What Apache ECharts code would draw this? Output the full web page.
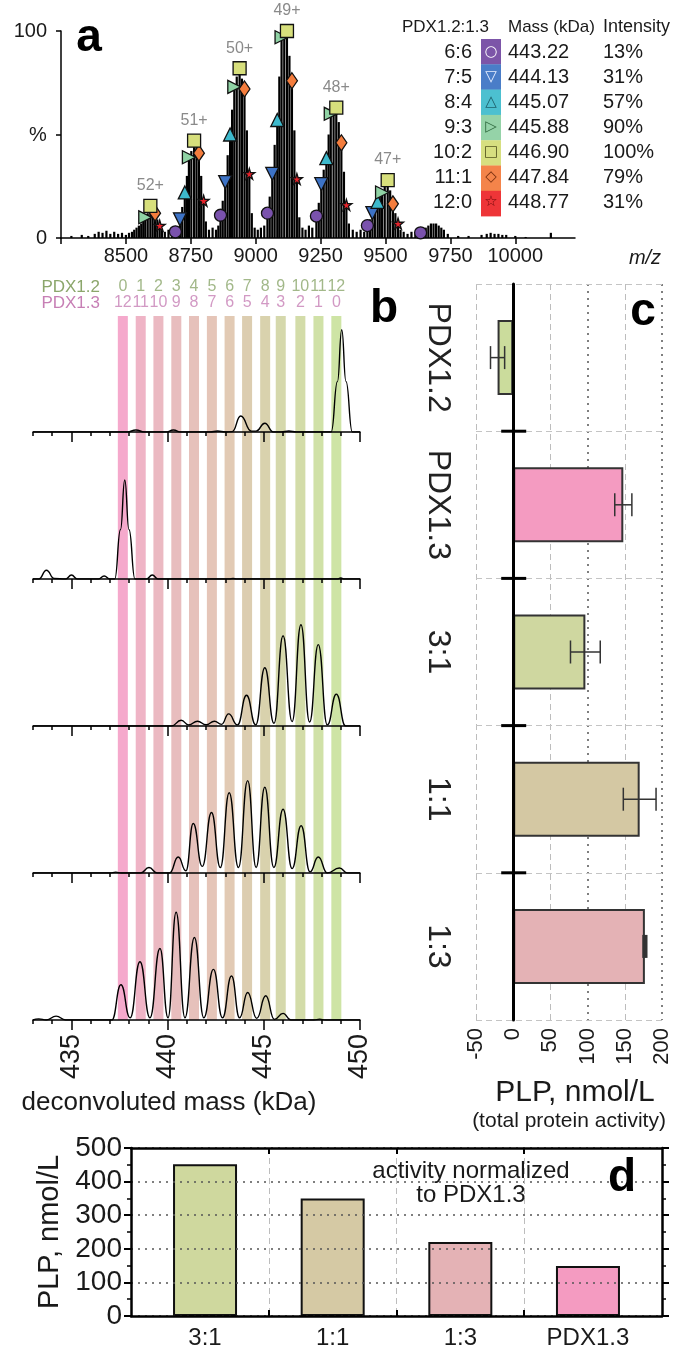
<!DOCTYPE html>
<html><head><meta charset="utf-8">
<script src="https://cdn.jsdelivr.net/npm/echarts@6/dist/echarts.min.js"></script>
<style>html,body{margin:0;padding:0;background:#fff}#c{width:679px;height:1355px}</style>
</head><body><div id="c"></div>
<script>
const FONT = '"Liberation Sans", Arial, Helvetica, sans-serif';

// ---------------- panel a data ----------------
const spectrumPeaks = [
  [8290,1],[8330,1.5],[8355,1],[8380,2],[8395,3],[8410,2.5],[8425,3.5],[8440,2],[8455,3],[8470,2],[8485,2.5],[8500,1.5],[8512,2.5],
  [8523.5,3],[8532,4],[8541,5],[8550,6],[8559,7],[8567,8],[8574.6,10],[8584,12],[8594.2,15.5],[8603,14],[8612.3,12],[8621,9],[8630.2,6],[8639,4],
  [8650,3],[8664,4],[8678,3],
  [8690.6,3],[8699,5],[8708.4,9],[8717,15],[8726.9,22],[8735,30],[8742.7,39],[8752,42],[8762.7,47],[8772,44],[8781.2,41],[8790,30],[8799.4,18],[8808,8],
  [8820,4],[8834,5],[8847,4],[8856,6],
  [8864.4,11],[8873,18],[8882.6,27],[8892,40],[8901.4,50],[8909,62],[8917.6,73],[8927,78],[8938,82],[8947,77],[8956.8,72],[8966,52],[8975.4,31],[8985,12],
  [8996,5],[9008,4],[9020,5],[9033,6],
  [9045.3,12],[9054,20],[9063.9,31],[9073,45],[9083.1,57],[9091,78],[9099.6,97],[9110,98],[9120.4,100],[9130,88],[9139.6,76],[9149,52],[9158.6,28.5],[9168,10],
  [9180,5],[9192,4],[9205,6],[9218,5],
  [9233.8,10.6],[9243,17],[9252.7,26],[9262,33],[9272.3,38.6],[9281,50],[9289.2,60],[9300,62],[9310.4,63],[9320,56],[9330,46],[9340,32],[9349.4,16],[9359,7],
  [9374,4],[9389,3],[9404,4],[9418,3],
  [9430.2,6],[9440,9],[9449.6,12],[9459,15],[9469.6,17.5],[9478,20],[9486.8,22],[9497,26],[9508.5,28],[9518,23],[9528.5,16.5],[9538,12],[9548.3,7],[9558,4],
  [9570,3],[9585,2],[9600,3],[9615,2],
  [9635.2,2.5],[9655,5],[9665,6],[9675,7],[9685,7],[9695,7],[9705,6],[9715,5],[9725,4],[9740,2],
  [9780,1],[9820,1],[9870,1.5],[9890,2],[9905,2.5],[9920,2],[9935,2],[9950,1.5],[9965,1.5],[10000,1],[10040,0.5],[10137,2.5]
];
const chargeLabels = ['52+','51+','50+','49+','48+','47+','46+'];
// m/z of each species (columns 6:6 ... 12:0) for each charge state (rows 52+ ... 46+)
const mzTable = [
  [8523.5, 8541.0, 8559.0, 8574.6, 8594.2, 8612.3, 8630.2],
  [8690.6, 8708.4, 8726.9, 8742.7, 8762.7, 8781.2, 8799.4],
  [8864.4, 8882.6, 8901.4, 8917.6, 8938.0, 8956.8, 8975.4],
  [9045.3, 9063.9, 9083.1, 9099.6, 9120.4, 9139.6, 9158.6],
  [9233.8, 9252.7, 9272.3, 9289.2, 9310.4, 9330.0, 9349.4],
  [9430.2, 9449.6, 9469.6, 9486.8, 9508.5, 9528.5, 9548.3],
  [9635.2, 9655.0, 9675.4, 9693.0, 9715.2, 9735.7, 9755.9]
];
const markerHeights = [
  [null, null, null, 10, 15.5, 12, 6],
  [3, 9, 22, 39, 47, 41, 18],
  [11, 27, 50, 73, 82, 72, 31],
  [12, 31, 57, 97, 100, 76, 28.5],
  [10.6, 26, 38.6, 60, 63, 46, 16],
  [6, 12, 17.5, 22, 28, 16.5, 7],
  [2.5, null, null, null, null, null, null]
];
const ratioLabels = ['6:6','7:5','8:4','9:3','10:2','11:1','12:0'];
const massesKDa = ['443.22','444.13','445.07','445.88','446.90','447.84','448.77'];
const intensityLabels = ['13%','31%','57%','90%','100%','79%','31%'];
const speciesColors = ['#7a52ad','#3d73c6','#3db9cc','#90d3a5','#d7df7c','#f47d3d','#e8232b'];
const legendBoxColors = ['#7c55a8','#4a7dc8','#4cc0d0','#95d3a8','#d7df80','#f4844a','#ee3538'];
const legendGlyphs = ['○','▽','△','▷','□','◇','☆'];
const legendGlyphColors = ['#ffffff','#e6eeff','#1d5f6a','#2f6a3f','#55551e','#7a3010','#6a0808'];
const STAR = 'path://M50,0 L61,35 L98,35 L68,57 L79,91 L50,70 L21,91 L32,57 L2,35 L39,35 Z';
const speciesSymbols = ['circle','triangle','triangle','triangle','rect','diamond',STAR];
const speciesRotate = [0,180,0,-90,0,0,0];
const speciesSizes = [12,13,13,13,13,[11,16],11];

// ---------------- panel b data ----------------
const stripeMasses = [437.67,438.60,439.52,440.45,441.37,442.30,443.22,444.13,445.07,445.88,446.90,447.84,448.77];
const pdx12Counts = [0,1,2,3,4,5,6,7,8,9,10,11,12];
const pdx13Counts = [12,11,10,9,8,7,6,5,4,3,2,1,0];
const stripeColors = ['#f5a9cc','#efb4c6','#ebb9c2','#e8bdbe','#e6c1bb','#e5c5b8','#e2cab4','#dccdb0','#d9d2ad','#d5d8ac','#d3dca9','#d0e1a7','#cee4a5'];
const tracePDX12 = [[433,0],[437.9,0],[438.35,1.8],[438.8,0],[439.9,0],[440.3,1.8],[440.7,0],[442.2,0],[442.6,0.9],[443.0,0],[443.35,0.3],[443.8,14.5],[444.35,0.8],[444.6,0.8],[445.05,8],[445.5,0],[445.9,0],[446.3,0.9],[446.7,0],[448.5,0],[448.83,46],[449.05,93],[449.27,46],[449.6,0],[450,0]];
const tracePDX13 = [[433,0],[433.3,0],[433.7,8],[434.1,0.5],[434.7,0],[435.0,3.6],[435.3,0],[436.4,0],[436.7,2.7],[437.0,0],[437.25,0],[437.55,45],[437.77,90],[437.99,45],[438.3,0],[438.9,0],[439.2,3.6],[439.5,0],[443.2,0],[443.4,0.5],[443.6,0],[448.8,0],[449.0,0.9],[449.2,0],[450,0]];
const trace31 = [[433,0],[440.2,0],[440.7,5.2],[441.1,1],[441.55,4.3],[442.0,1.2],[442.43,4.3],[442.8,1.5],[443.17,11],[443.63,1],[444.1,28],[444.58,1],[445.05,53],[445.53,2.5],[446.0,82],[446.47,4],[446.93,92],[447.38,3.6],[447.83,74],[448.3,1],[448.77,29],[449.25,0],[450,0]];
const trace11 = [[433,0],[437.0,0],[437.3,0.8],[437.6,0],[438.6,0],[439.03,5],[439.45,0],[440.1,0],[440.55,14.5],[440.95,2],[441.33,45],[441.8,6],[442.28,55],[442.74,5],[443.2,73],[443.68,5],[444.16,84],[444.6,5],[445.05,78],[445.52,5],[446.0,58],[446.47,4],[446.94,43],[447.4,1],[447.83,14.5],[448.3,0],[448.93,4.5],[449.35,0],[450,0]];
const trace13 = [[433,0],[433.3,1],[433.7,0],[434.2,3.5],[434.7,0],[437.1,0],[437.57,32],[438.05,2],[438.56,53],[439.08,2],[439.6,65],[440.02,2],[440.44,98],[440.9,2],[441.39,75],[441.88,2],[442.38,46],[442.85,2],[443.32,40],[443.74,2],[444.16,25],[444.63,1.5],[445.1,22],[445.55,0.5],[446.0,6],[446.4,0],[447.6,0],[447.9,0.8],[448.2,0],[450,0]];
const traces = [tracePDX12, tracePDX13, trace31, trace11, trace13];
const massTicksMajor = [435,440,445,450];

// ---------------- panel c data ----------------
const activityCats = ['PDX1.2','PDX1.3','3:1','1:1','1:3'];
const activityValues = [-21, 148, 97, 170, 177];
const activityErrors = [9.5, 11.5, 20, 22, 1.5];
const activityColors = ['#cbdc9c','#f49bc1','#cfd7a0','#d4c8a3','#e4b2b5'];

// ---------------- panel d data ----------------
const normCats = ['3:1','1:1','1:3','PDX1.3'];
const normValues = [452, 350, 220, 149];
const normColors = ['#cfd89e','#d5c9a4','#e4b2b5','#f49bc1'];

// ---------------- build ----------------
const txt = (size, extra) => Object.assign({fontFamily: FONT, fontSize: size, color: '#1a1a1a'}, extra || {});
const grids = [
  {left: 61, top: 31, width: 514, height: 207}
];
const traceBase = [432, 579, 726, 873, 1020];
traceBase.forEach(b => grids.push({left: 33, width: 327, top: b - 110, height: 110}));
grids.push({left: 33, width: 327, top: 316, height: 704});
grids.push({left: 476, width: 186, top: 284, height: 736});
grids.push({left: 131, width: 531, top: 1148, height: 168});

const xAxes = [], yAxes = [], series = [];
// panel a axes
xAxes.push({gridIndex: 0, type: 'value', min: 8250, max: 10230, position: 'bottom',
  axisLine: {onZero: false, lineStyle: {color: '#000', width: 1.5}},
  axisTick: {length: 6, lineStyle: {color: '#000', width: 1.5}, customValues: [8250,8500,8750,9000,9250,9500,9750,10000]},
  axisLabel: txt(20, {margin: 8, customValues: [8500,8750,9000,9250,9500,9750,10000], formatter: v => String(v)}),
  splitLine: {show: false}});
yAxes.push({gridIndex: 0, type: 'value', min: 0, max: 100, interval: 50,
  axisLine: {show: true, lineStyle: {color: '#000', width: 1.5}},
  axisTick: {show: true, length: 5, lineStyle: {color: '#000', width: 1.5}},
  axisLabel: txt(20, {margin: 14, formatter: v => (v === 50 ? '' : String(v))}),
  splitLine: {show: false}});
// panel b main axes (1..5) and major overlays (6..10)
for (let i = 0; i < 5; i++) {
  xAxes.push({gridIndex: i + 1, type: 'value', min: 433, max: 450, interval: 1, z: 5, position: 'bottom',
    axisLine: {onZero: false, lineStyle: {color: '#000', width: 1.5}},
    axisTick: {length: 4, lineStyle: {color: '#000', width: 1.5}},
    axisLabel: {show: false}, splitLine: {show: false}});
}
for (let i = 0; i < 5; i++) {
  xAxes.push({gridIndex: i + 1, type: 'value', min: 433, max: 450, z: 5, position: 'bottom',
    axisLine: {show: false, onZero: false},
    axisTick: {length: 10, lineStyle: {color: '#000', width: 1.5}, customValues: massTicksMajor},
    axisLabel: i === 4 ? txt(27, {rotate: 90, margin: 14, customValues: massTicksMajor, formatter: v => String(v)}) : {show: false},
    splitLine: {show: false}});
}
for (let i = 0; i < 5; i++) {
  yAxes.push({gridIndex: i + 1, type: 'value', min: 0, max: 100, show: false});
}
// stripes axes (x 11, y 6)
xAxes.push({gridIndex: 6, type: 'value', min: 433, max: 450, show: false});
yAxes.push({gridIndex: 6, type: 'value', min: 0, max: 1, show: false});
// panel c axes (x 12..15, y 7)
xAxes.push({gridIndex: 7, type: 'value', min: -50, max: 200, interval: 50, position: 'bottom', z: 4,
  axisLine: {onZero: false, lineStyle: {color: '#000', width: 3}},
  axisTick: {inside: true, length: 8, lineStyle: {color: '#000', width: 2.5}},
  axisLabel: txt(22, {rotate: 90, margin: 8}), splitLine: {show: false}});
xAxes.push({gridIndex: 7, type: 'value', min: -50, max: 200, interval: 50, position: 'top', z: 4,
  axisLine: {onZero: false, lineStyle: {color: '#000', width: 3}},
  axisTick: {inside: true, length: 8, lineStyle: {color: '#000', width: 2.5}},
  axisLabel: {show: false}, splitLine: {show: false}});
xAxes.push({gridIndex: 7, type: 'value', min: -50, max: 200, position: 'bottom',
  axisLine: {show: false, onZero: false}, axisTick: {show: false, customValues: [-50, 50, 150]}, axisLabel: {show: false},
  splitLine: {show: true, lineStyle: {color: '#bdbdbd', type: [6, 4], width: 1}}});
xAxes.push({gridIndex: 7, type: 'value', min: -50, max: 200, position: 'top',
  axisLine: {show: false, onZero: false}, axisTick: {show: false, customValues: [100, 200]}, axisLabel: {show: false},
  splitLine: {show: true, lineStyle: {color: '#555', type: [2, 5], width: 1.5}}});
yAxes.push({gridIndex: 7, type: 'category', data: activityCats, inverse: true, z: 4,
  axisLine: {onZero: true, lineStyle: {color: '#000', width: 3}},
  axisTick: {show: false},
  axisLabel: txt(32, {rotate: -90, margin: 22, color: '#222'}),
  splitLine: {show: true, lineStyle: {color: '#c4c4c4', type: [6, 4], width: 1}}});
// panel d axes (x 16,17; y 8,9)
xAxes.push({gridIndex: 8, type: 'value', min: 0.42, max: 4.58, position: 'bottom', z: 4,
  axisLine: {onZero: false, lineStyle: {color: '#000', width: 2.5}},
  axisTick: {inside: true, length: 6, lineStyle: {color: '#000', width: 2}, customValues: [1.5, 2.5, 3.5]},
  axisLabel: txt(24, {margin: 10, customValues: [1, 2, 3, 4], formatter: v => normCats[Math.round(v) - 1]}),
  splitLine: {show: true, lineStyle: {color: '#bdbdbd', type: [6, 4], width: 1}}});
xAxes.push({gridIndex: 8, type: 'value', min: 0.42, max: 4.58, position: 'top', z: 4,
  axisLine: {onZero: false, lineStyle: {color: '#000', width: 2.5}},
  axisTick: {inside: true, length: 6, lineStyle: {color: '#000', width: 2}, customValues: [1.5, 2.5, 3.5]},
  axisLabel: {show: false}, splitLine: {show: false}});
yAxes.push({gridIndex: 8, type: 'value', min: 0, max: 500, interval: 100, position: 'left', z: 4,
  axisLine: {show: true, onZero: false, lineStyle: {color: '#000', width: 2.5}},
  axisTick: {show: true, length: 7, lineStyle: {color: '#000', width: 2}},
  minorTick: {show: true, splitNumber: 2, length: 4, lineStyle: {color: '#000', width: 1.5}},
  axisLabel: txt(28, {margin: 9}),
  splitLine: {show: true, lineStyle: {color: '#555', type: [2, 5], width: 1.5}},
  name: 'PLP, nmol/L', nameLocation: 'middle', nameRotate: 90, nameGap: 66, nameTextStyle: txt(29)});
yAxes.push({gridIndex: 8, type: 'value', min: 0, max: 500, interval: 100, position: 'right', z: 4,
  axisLine: {show: true, onZero: false, lineStyle: {color: '#000', width: 2.5}},
  axisTick: {show: true, length: 7, lineStyle: {color: '#000', width: 2}},
  minorTick: {show: true, splitNumber: 2, length: 4, lineStyle: {color: '#000', width: 1.5}},
  axisLabel: {show: false}, splitLine: {show: false}});

// ---- series: panel a
series.push({type: 'bar', xAxisIndex: 0, yAxisIndex: 0, data: spectrumPeaks, barWidth: 2.2,
  itemStyle: {color: '#000'}, silent: true, z: 2, animation: false});
for (let s = 0; s < 7; s++) {
  const data = [];
  for (let i = 0; i < mzTable.length; i++) {
    if (markerHeights[i][s] != null) data.push([mzTable[i][s], markerHeights[i][s], i]);
  }
  series.push({type: 'scatter', xAxisIndex: 0, yAxisIndex: 0, data, z: 4 + (s === 4 ? 1 : 0),
    symbol: speciesSymbols[s], symbolRotate: speciesRotate[s], symbolSize: speciesSizes[s],
    itemStyle: {color: speciesColors[s], borderColor: '#111', borderWidth: 1.3, opacity: 1},
    label: s === 4 ? {show: true, position: 'top', distance: 5, formatter: p => (p.data[2] < 6 ? chargeLabels[p.data[2]] : ''),
      fontFamily: FONT, fontSize: 16, color: '#8a8a8a'} : {show: false},
    animation: false});
}
// ---- series: panel b stripes
series.push({type: 'custom', xAxisIndex: 11, yAxisIndex: 6, z: 1, silent: true, animation: false,
  data: stripeMasses.map((m, i) => [m, i]),
  renderItem: (params, api) => {
    const m = api.value(0), i = api.value(1), hw = 0.26;
    const tl = api.coord([m - hw, 1]);
    const br = api.coord([m + hw, 0]);
    return {type: 'rect', shape: {x: tl[0], y: tl[1], width: br[0] - tl[0], height: br[1] - tl[1]}, style: {fill: stripeColors[i]}};
  }});
// ---- header numbers above stripes (labels anchored at stripe tops)
[[pdx12Counts, '#8ba66b', -29], [pdx13Counts, '#c77fb5', -13]].forEach(([counts, color, dy]) => {
  series.push({type: 'scatter', xAxisIndex: 11, yAxisIndex: 6, z: 6, silent: true, animation: false, clip: false,
    symbolSize: 1, itemStyle: {color: 'rgba(0,0,0,0)'},
    data: stripeMasses.map((m, i) => [m, 1, counts[i]]),
    label: {show: true, position: 'inside', offset: [0, dy], formatter: p => String(p.data[2]),
      fontFamily: FONT, fontSize: 16, color: color}});
});
// ---- series: panel b traces
traces.forEach((t, i) => series.push({type: 'line', xAxisIndex: i + 1, yAxisIndex: i + 1, data: t, z: 3,
  smooth: 0.5, smoothMonotone: 'x', showSymbol: false, symbol: 'none', silent: true, animation: false,
  lineStyle: {color: '#000', width: 1.4}}));
// ---- series: panel c
series.push({type: 'bar', xAxisIndex: 12, yAxisIndex: 7, barWidth: 75, z: 2, animation: false,
  data: activityValues.map((v, i) => ({value: v, itemStyle: {color: activityColors[i]}})),
  itemStyle: {borderColor: '#333', borderWidth: 2}});
series.push({type: 'custom', xAxisIndex: 12, yAxisIndex: 7, z: 6, silent: true, animation: false,
  data: activityValues.map((v, i) => [v, i, activityErrors[i]]),
  renderItem: (params, api) => {
    const v = api.value(0), i = api.value(1), e = api.value(2);
    const a = api.coord([v - e, i]), b = api.coord([v + e, i]);
    const h = 11.5, st = {stroke: '#333', lineWidth: e < 3 ? 3 : 1.5};
    return {type: 'group', children: [
      {type: 'line', shape: {x1: a[0], y1: a[1], x2: b[0], y2: b[1]}, style: st},
      {type: 'line', shape: {x1: a[0], y1: a[1] - h, x2: a[0], y2: a[1] + h}, style: st},
      {type: 'line', shape: {x1: b[0], y1: b[1] - h, x2: b[0], y2: b[1] + h}, style: st}
    ]};
  }});
series.push({type: 'custom', xAxisIndex: 12, yAxisIndex: 7, z: 7, silent: true, animation: false,
  data: [[0, 1], [0, 2], [0, 3], [0, 4]],
  renderItem: (params, api) => {
    const c = api.coord([api.value(0), api.value(1)]);
    const band = api.size([0, 1])[1];
    const y = c[1] - band / 2;
    return {type: 'line', shape: {x1: c[0] - 12, y1: y, x2: c[0] + 13, y2: y}, style: {stroke: '#000', lineWidth: 3}};
  }});
// ---- series: panel d
series.push({type: 'bar', xAxisIndex: 16, yAxisIndex: 8, barWidth: 64, z: 2, animation: false,
  data: normValues.map((v, i) => ({value: [i + 1, v], itemStyle: {color: normColors[i]}})),
  itemStyle: {borderColor: '#111', borderWidth: 2}});

// ---- graphic texts
const graphic = [];
const gtext = (text, x, y, size, opts) => graphic.push(Object.assign({type: 'text', x, y, z: 100, silent: true,
  style: Object.assign({text, font: size + 'px ' + FONT, fill: '#1a1a1a', align: 'left', verticalAlign: 'middle'}, (opts && opts.style) || {})}));
gtext('a', 89, 38, 46, {style: {font: 'bold 46px ' + FONT, align: 'center', fill: '#000'}});
gtext('%', 38, 135, 20, {style: {align: 'center'}});
gtext('PDX1.2:1.3', 402, 27, 17);
gtext('Mass (kDa)', 508, 27, 17);
gtext('Intensity', 603, 27, 18);
for (let i = 0; i < 7; i++) {
  const y = 52 + i * 25;
  gtext(ratioLabels[i], 472, y, 20, {style: {align: 'right'}});
  graphic.push({type: 'rect', z: 99, silent: true, shape: {x: 481, y: 39 + i * 25.3, width: 20, height: 25.6}, style: {fill: legendBoxColors[i]}});
  gtext(legendGlyphs[i], 491, y, 15, {style: {align: 'center', font: '15px "DejaVu Sans"', fill: legendGlyphColors[i]}});
  gtext(massesKDa[i], 508, y, 20);
  gtext(intensityLabels[i], 603, y, 20);
}
gtext('m/z', 645, 258, 20, {style: {align: 'center', font: 'italic 20px ' + FONT}});
gtext('PDX1.2', 100, 287, 17, {style: {align: 'right', fill: '#8ba66b'}});
gtext('PDX1.3', 100, 303, 17, {style: {align: 'right', fill: '#c77fb5'}});
gtext('b', 384, 309, 46, {style: {font: 'bold 46px ' + FONT, align: 'center', fill: '#000'}});
gtext('c', 643, 312, 46, {style: {font: 'bold 46px ' + FONT, align: 'center', fill: '#000'}});
gtext('deconvoluted mass (kDa)', 169, 1103, 26, {style: {align: 'center'}});
gtext('PLP, nmol/L', 575, 1093, 30, {style: {align: 'center'}});
gtext('(total protein activity)', 569, 1121, 21, {style: {align: 'center'}});
gtext('activity normalized', 471, 1171, 24, {style: {align: 'center'}});
gtext('to PDX1.3', 471, 1195, 24, {style: {align: 'center'}});
gtext('d', 622, 1178, 46, {style: {font: 'bold 46px ' + FONT, align: 'center', fill: '#000'}});

const chart = echarts.init(document.getElementById('c'), null, {renderer: 'canvas'});
chart.setOption({backgroundColor: '#fff', animation: false, textStyle: {fontFamily: FONT},
  grid: grids, xAxis: xAxes, yAxis: yAxes, series, graphic});
</script></body></html>
